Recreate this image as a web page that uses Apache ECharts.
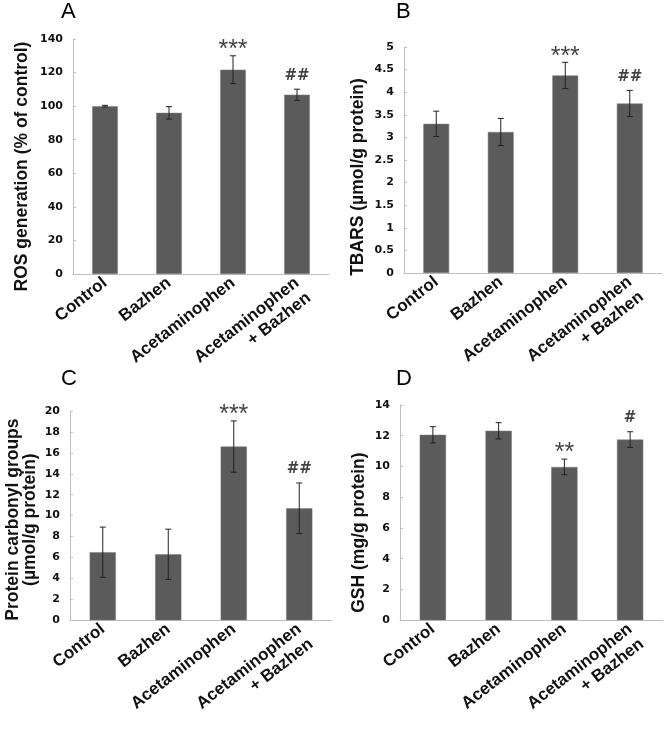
<!DOCTYPE html>
<html><head><meta charset="utf-8">
<script src="https://cdn.jsdelivr.net/npm/echarts@6/dist/echarts.min.js"></script>
<style>html,body{margin:0;padding:0;background:#fff}#c{width:670px;height:730px}</style>
</head><body><div id="c"></div>
<script>
// ---- data ----
const categories = ['Control', 'Bazhen', 'Acetaminophen', 'Acetaminophen\n+ Bazhen'];

const rosMean = [100, 96, 121.7, 106.8];
const rosErr = [0.5, 3.7, 8.3, 3.3];
const rosMarks = ['', '', '***', '##'];

const tbarsMean = [3.30, 3.12, 4.37, 3.75];
const tbarsErr = [0.28, 0.30, 0.29, 0.29];
const tbarsMarks = ['', '', '***', '##'];

const carbonylMean = [6.5, 6.3, 16.6, 10.7];
const carbonylErr = [2.4, 2.4, 2.45, 2.42];
const carbonylMarks = ['', '', '***', '##'];

const gshMean = [12.06, 12.32, 9.97, 11.75];
const gshErr = [0.53, 0.53, 0.51, 0.51];
const gshMarks = ['', '', '**', '#'];

const rosTicks = {min: 0, max: 140, interval: 20};
const tbarsTicks = {min: 0, max: 5, interval: 0.5};
const carbonylTicks = {min: 0, max: 20, interval: 2};
const gshTicks = {min: 0, max: 14, interval: 2};

// ---- layout ----
const panels = [
  {letter: 'A', name: 'ROS generation (% of control)', mean: rosMean, err: rosErr, marks: rosMarks, ticks: rosTicks,
   grid: {left: 73, top: 39, width: 256, height: 235}, letterPos: {left: 61, top: 1}, nameGap: 42, namePad: [0, 20, 0, 0]},
  {letter: 'B', name: 'TBARS (µmol/g protein)', mean: tbarsMean, err: tbarsErr, marks: tbarsMarks, ticks: tbarsTicks,
   grid: {left: 404, top: 47, width: 258, height: 226}, letterPos: {left: 396, top: 1}, nameGap: 37, namePad: [0, 34, 0, 0]},
  {letter: 'C', name: 'Protein carbonyl groups\n(µmol/g protein)', mean: carbonylMean, err: carbonylErr, marks: carbonylMarks, ticks: carbonylTicks,
   grid: {left: 70, top: 411, width: 262, height: 228}, letterPos: {left: 61, top: 368}, nameGap: 31, namePad: [0, 8, 0, 0]},
  {letter: 'D', name: 'GSH (mg/g protein)', mean: gshMean, err: gshErr, marks: gshMarks, ticks: gshTicks,
   grid: {left: 400, top: 405, width: 263, height: 228}, letterPos: {left: 396, top: 368}, nameGap: 32, namePad: [0, 40, 0, 0]}
];

const axisColor = '#bfbfbf';
const barColor = '#5b5b5b';

const option = {
  backgroundColor: '#fff',
  animation: false,
  title: [], grid: [], xAxis: [], yAxis: [], series: []
};

panels.forEach((p, i) => {
  option.title.push({text: p.letter, left: p.letterPos.left, top: p.letterPos.top, padding: 0,
    textStyle: {fontFamily: 'Liberation Sans, Arial', fontSize: 22, fontWeight: 'normal', color: '#000'}});
  option.grid.push(Object.assign({containLabel: false}, p.grid));
  option.xAxis.push({
    type: 'category', gridIndex: i, data: categories,
    axisLine: {lineStyle: {color: axisColor, width: 1}},
    axisTick: {show: false},
    axisLabel: {interval: 0, rotate: 38, margin: 7, fontFamily: 'Liberation Sans, Arial', fontSize: 17,
      fontWeight: 'bold', color: '#111', lineHeight: 19,
      formatter: v => v.indexOf('\n') >= 0 ? '\u00a0\n' + v : v}
  });
  option.yAxis.push({
    type: 'value', gridIndex: i, min: p.ticks.min, max: p.ticks.max, interval: p.ticks.interval,
    name: p.name, nameLocation: 'middle', nameGap: p.nameGap,
    nameTextStyle: {fontFamily: 'Liberation Sans, Arial', fontSize: 17.5, fontWeight: 'bold', color: '#111',
      lineHeight: 17, padding: p.namePad},
    axisLine: {show: true, lineStyle: {color: axisColor, width: 1}},
    axisTick: {show: true, inside: true, length: 3, lineStyle: {color: axisColor}},
    splitLine: {show: false},
    axisLabel: {margin: 10, fontFamily: 'DejaVu Sans, Verdana', fontSize: 11, fontWeight: 'bold', color: '#111'}
  });
  option.series.push({
    type: 'bar', xAxisIndex: i, yAxisIndex: i, data: p.mean, barWidth: '40%',
    itemStyle: {color: barColor, borderColor: '#7a7a7a', borderWidth: 0.5}
  });
  option.series.push({
    type: 'custom', xAxisIndex: i, yAxisIndex: i, z: 5,
    data: p.mean.map((m, k) => [k, m - p.err[k], m + p.err[k]]),
    renderItem: (params, api) => {
      const x = api.value(0);
      const lo = api.coord([x, api.value(1)]);
      const hi = api.coord([x, api.value(2)]);
      const w = 3;
      const st = {stroke: '#222', lineWidth: 1};
      return {type: 'group', children: [
        {type: 'line', shape: {x1: hi[0], y1: hi[1], x2: lo[0], y2: lo[1]}, style: st},
        {type: 'line', shape: {x1: hi[0] - w, y1: hi[1], x2: hi[0] + w, y2: hi[1]}, style: st},
        {type: 'line', shape: {x1: lo[0] - w, y1: lo[1], x2: lo[0] + w, y2: lo[1]}, style: st}
      ]};
    }
  });
  option.series.push({
    type: 'scatter', xAxisIndex: i, yAxisIndex: i, symbolSize: 0, z: 6,
    data: p.mean.map((m, k) => {
      const mk = p.marks[k];
      if (!mk) return null;
      const star = mk.indexOf('*') >= 0;
      return {value: [k, m + p.err[k]], label: {
        show: true, position: 'top', distance: star ? -7 : 6, formatter: mk,
        fontFamily: star ? 'Liberation Sans, Arial' : 'DejaVu Sans, Verdana', fontSize: star ? 25 : 15,
        fontWeight: star ? 'normal' : 'bold', color: '#111'}};
    }).filter(d => d)
  });
});

const chart = echarts.init(document.getElementById('c'), null, {renderer: 'canvas'});
chart.setOption(option);
</script>
</body></html>
